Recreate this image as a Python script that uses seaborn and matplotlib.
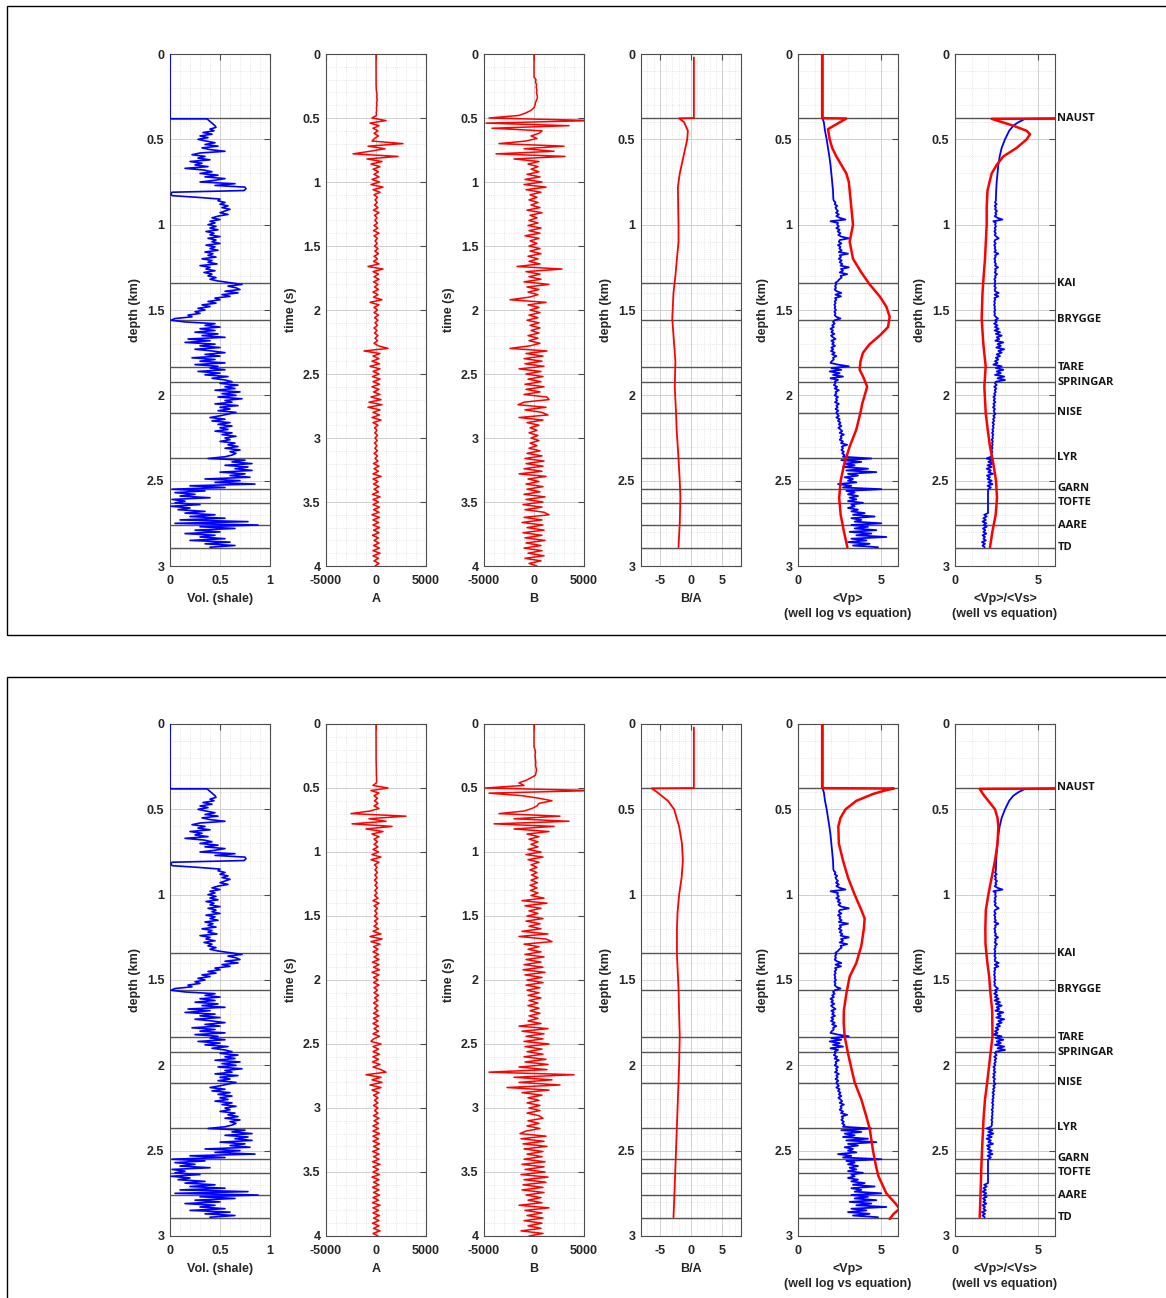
import numpy as np
import matplotlib
matplotlib.use("Agg")
import matplotlib.pyplot as plt
import seaborn as sns
from matplotlib.ticker import MultipleLocator, FormatStrFormatter
from matplotlib.patches import Rectangle
import matplotlib.transforms as mtransforms

# ---------------- data ----------------
formations = ["NAUST", "KAI", "BRYGGE", "TARE", "SPRINGAR", "NISE", "LYR", "GARN", "TOFTE", "AARE", "TD"]
formation_depth = [0.375, 1.342, 1.558, 1.834, 1.922, 2.103, 2.367, 2.548, 2.63, 2.76, 2.894]

# shale volume log, sampled every 0.01 km from 0.38 km
vsh_top_depth = [0.0, 0.38]
vsh_top = [0.0, 0.0]
vsh = [0.37, 0.39, 0.41, 0.43, 0.45, 0.46, 0.40, 0.44, 0.33, 0.42,
       0.30, 0.38, 0.28, 0.36, 0.45, 0.35, 0.48, 0.32, 0.40, 0.55,
       0.30, 0.22, 0.35, 0.28, 0.40, 0.20, 0.32, 0.25, 0.38, 0.15,
       0.34, 0.42, 0.30, 0.48, 0.35, 0.55, 0.45, 0.30, 0.65, 0.45,
       0.75, 0.76, 0.74, 0.02, 0.01, 0.02, 0.28, 0.50, 0.48, 0.55,
       0.50, 0.58, 0.52, 0.60, 0.55, 0.50, 0.58, 0.48, 0.42, 0.50,
       0.40, 0.45, 0.38, 0.46, 0.40, 0.48, 0.36, 0.44, 0.40, 0.50,
       0.38, 0.46, 0.42, 0.50, 0.36, 0.45, 0.40, 0.48, 0.35, 0.43,
       0.38, 0.46, 0.32, 0.42, 0.38, 0.47, 0.30, 0.40, 0.36, 0.45,
       0.34, 0.42, 0.38, 0.46, 0.40, 0.48, 0.60, 0.72, 0.58, 0.66,
       0.70, 0.55, 0.68, 0.52, 0.60, 0.45, 0.50, 0.38, 0.46, 0.32,
       0.40, 0.28, 0.35, 0.25, 0.30, 0.18, 0.22, 0.05, 0.01, 0.15,
       0.45, 0.35, 0.50, 0.30, 0.45, 0.25, 0.48, 0.32, 0.55, 0.18,
       0.40, 0.15, 0.45, 0.30, 0.50, 0.25, 0.42, 0.55, 0.35, 0.50,
       0.22, 0.45, 0.30, 0.55, 0.25, 0.48, 0.40, 0.55, 0.28, 0.50,
       0.35, 0.58, 0.42, 0.55, 0.62, 0.50, 0.68, 0.55, 0.65, 0.45,
       0.70, 0.52, 0.66, 0.48, 0.72, 0.55, 0.62, 0.45, 0.68, 0.50,
       0.60, 0.48, 0.66, 0.58, 0.50, 0.40, 0.55, 0.42, 0.60, 0.48,
       0.62, 0.50, 0.58, 0.45, 0.62, 0.52, 0.66, 0.55, 0.60, 0.50,
       0.65, 0.58, 0.68, 0.55, 0.70, 0.60, 0.66, 0.62, 0.55, 0.38,
       0.75, 0.62, 0.82, 0.55, 0.78, 0.65, 0.82, 0.50, 0.75, 0.60,
       0.80, 0.35, 0.70, 0.45, 0.85, 0.20, 0.55, 0.02, 0.35, 0.05,
       0.25, 0.10, 0.40, 0.02, 0.15, 0.05, 0.30, 0.01, 0.20, 0.08,
       0.35, 0.15, 0.45, 0.20, 0.55, 0.10, 0.78, 0.05, 0.88, 0.30,
       0.65, 0.25, 0.50, 0.15, 0.45, 0.30, 0.55, 0.20, 0.60, 0.35,
       0.65, 0.40]

# Vp well log (km/s): smooth upper part, then sampled every 0.01 km from 0.86 km
vp_top_depth = [0.0, 0.38, 0.40, 0.45, 0.50, 0.55, 0.60, 0.65, 0.70, 0.75, 0.80, 0.85]
vp_top = [1.48, 1.48, 1.55, 1.62, 1.72, 1.80, 1.88, 1.95, 2.00, 2.05, 2.10, 2.12]
vp_log = [2.15, 2.25, 2.20, 2.35, 2.25, 2.30, 2.40, 2.28, 2.45, 2.30,
          2.50, 2.85, 1.95, 2.40, 2.35, 2.45, 2.30, 2.50, 2.38, 2.55,
          2.42, 2.60, 3.05, 2.50, 2.45, 2.60, 2.40, 2.55, 2.48, 2.62,
          2.45, 3.00, 2.50, 2.58, 2.45, 2.62, 2.50, 2.66, 2.55, 3.05,
          2.58, 2.70, 2.50, 2.95, 2.55, 2.62, 2.48, 2.40, 2.25, 2.30,
          2.22, 2.28, 2.20, 2.32, 2.60, 2.25, 2.58, 2.22, 2.30, 2.20,
          2.26, 2.18, 2.24, 2.20, 2.28, 2.18, 2.25, 2.20, 2.30, 2.55,
          2.20, 2.10, 2.20, 2.05, 2.15, 1.95, 2.10, 2.00, 2.18, 1.98,
          2.10, 2.25, 2.00, 2.15, 2.05, 2.22, 2.00, 2.12, 1.98, 2.20,
          2.05, 2.30, 2.10, 2.15, 2.02, 1.95, 2.40, 3.05, 2.00, 2.60,
          1.90, 2.50, 2.10, 2.70, 1.95, 2.40, 2.20, 2.25, 2.15, 2.35,
          2.20, 2.45, 2.25, 2.30, 2.20, 2.40, 2.28, 2.35, 2.22, 2.45,
          2.30, 2.38, 2.25, 2.42, 2.30, 2.35, 2.45, 2.30, 2.50, 2.40,
          2.55, 2.45, 2.60, 2.42, 2.55, 2.65, 2.50, 2.75, 2.55, 2.62,
          2.50, 2.70, 2.58, 2.95, 2.62, 2.70, 2.60, 2.75, 2.65, 2.80,
          2.70, 4.40, 2.60, 3.80, 2.80, 3.40, 2.70, 4.20, 2.90, 4.70,
          3.00, 3.60, 2.80, 3.30, 3.00, 3.50, 2.40, 3.20, 2.70, 5.00,
          2.90, 3.40, 3.00, 3.60, 3.10, 3.50, 3.00, 3.90, 3.20, 3.40,
          3.00, 3.60, 3.20, 4.00, 3.30, 4.60, 3.20, 3.80, 3.40, 5.00,
          3.20, 4.20, 3.40, 4.70, 3.10, 4.40, 3.50, 5.30, 3.20, 4.10,
          3.00, 4.30, 3.30, 4.80]

# Vp/Vs well log: smooth upper part, then sampled every 0.01 km from 0.86 km
vpvs_top_depth = [0.376, 0.38, 0.40, 0.42, 0.45, 0.50, 0.55, 0.60, 0.65, 0.70, 0.75, 0.80, 0.85]
vpvs_top = [8.0, 4.2, 3.8, 3.5, 3.25, 3.0, 2.8, 2.68, 2.6, 2.55, 2.5, 2.47, 2.45]
vpvs_log = [2.45, 2.40, 2.50, 2.38, 2.46, 2.40, 2.52, 2.42, 2.48, 2.38,
            2.55, 2.85, 2.30, 2.45, 2.40, 2.46, 2.38, 2.44, 2.36, 2.45,
            2.38, 2.48, 2.62, 2.40, 2.36, 2.44, 2.35, 2.42, 2.38, 2.45,
            2.36, 2.60, 2.40, 2.44, 2.36, 2.42, 2.38, 2.46, 2.40, 2.58,
            2.40, 2.45, 2.38, 2.52, 2.40, 2.44, 2.36, 2.42, 2.38, 2.42,
            2.36, 2.45, 2.38, 2.40, 2.62, 2.38, 2.60, 2.36, 2.42, 2.35,
            2.40, 2.34, 2.40, 2.36, 2.42, 2.35, 2.40, 2.36, 2.44, 2.58,
            2.40, 2.50, 2.35, 2.55, 2.40, 2.62, 2.38, 2.70, 2.45, 2.80,
            2.50, 2.65, 2.42, 2.90, 2.55, 2.75, 2.48, 2.95, 2.60, 2.80,
            2.50, 2.70, 2.45, 2.60, 2.40, 2.55, 2.30, 2.80, 2.45, 2.90,
            2.50, 2.75, 2.40, 2.95, 2.55, 3.00, 2.45, 2.40, 2.50, 2.35,
            2.48, 2.38, 2.45, 2.35, 2.42, 2.30, 2.40, 2.32, 2.42, 2.30,
            2.38, 2.28, 2.40, 2.32, 2.36, 2.42, 2.30, 2.38, 2.28, 2.35,
            2.25, 2.34, 2.26, 2.32, 2.24, 2.30, 2.22, 2.30, 2.24, 2.28,
            2.20, 2.27, 2.22, 2.26, 2.20, 2.25, 2.18, 2.24, 2.20, 2.22,
            2.15, 1.90, 2.25, 2.00, 2.30, 1.95, 2.20, 1.90, 2.15, 2.00,
            2.28, 1.92, 2.10, 1.95, 2.20, 2.00, 2.25, 1.95, 2.15, 2.00,
            1.98, 1.98, 1.98, 1.98, 1.98, 1.98, 1.98, 1.98, 1.98, 1.98,
            1.98, 1.98, 1.98, 1.98, 1.75, 1.90, 1.70, 1.85, 1.65, 1.88,
            1.72, 1.90, 1.68, 1.82, 1.70, 1.88, 1.65, 1.80, 1.70, 1.85,
            1.62, 1.80, 1.65, 1.78]

# seismic traces A and B, sampled every 0.02 s from 0 to 4 s
A1 = [0, 0, 0, 0, 0, 0, 0, 0, 0, 0,
      0, 0, 10, 20, 30, 60, 100, 80, 120, 60,
      90, 40, 60, 20, 50, -400, 1000, -600, 300, -300,
      200, -200, 250, -150, -400, 2700, -800, 900, -600, -2300,
      2200, -900, 600, -500, 400, -300, 250, -200, 300, -400,
      350, -500, 700, -300, 400, -200, 150, -100, 120, -150,
      200, -250, 300, -150, 100, -120, 150, -200, 180, -250,
      300, -200, 150, -100, 120, -150, 200, -120, 250, -200,
      150, -250, 300, -800, 700, -300, 250, -200, 300, -250,
      200, -150, 250, -300, 200, -250, 600, -600, 300, -200,
      150, -200, 250, -150, 200, -100, 150, -200, 100, -150,
      200, -100, 150, -200, 250, 1200, -1200, 400, -300, 300,
      -400, 350, -600, 400, -300, 300, -350, 400, -300, 350,
      -400, 300, -250, 400, -500, 500, -700, 600, -800, 400,
      -300, 350, -400, 500, -300, 200, -150, 100, -120, 150,
      -100, 120, -150, 100, -120, 150, -200, 150, -100, 200,
      -250, 300, -200, 250, -300, 500, -300, 200, -250, 300,
      -200, 250, -350, 400, -300, 250, -300, 350, -250, 300,
      -400, 350, -300, 250, -300, 350, -250, 300, -350, 250,
      -200, 300, -250, 350, -300, 400, -300, 250, -200, 300,
      -100]

B1 = [0, 0, 0, 0, 0, 0, 0, 0, 0, 0,
      200, 150, 250, 220, 280, 250, 300, 350, 250, 150,
      100, 0, -300, -800, -1500, -4500, 6000, -4800, 3500, -4200,
      800, 500, -300, 300, -800, -3500, 3000, -1000, 2000, -3800,
      3100, -2000, 500, -600, 400, -300, 500, -700, 600, -900,
      800, -1000, 1200, -800, 700, -400, 300, -500, 400, -300,
      600, -700, 800, -400, 300, -500, 400, -600, 700, -500,
      600, -900, 500, -400, 300, -500, 600, -400, 700, -600,
      400, -500, 600, -1700, 2800, -800, 600, -500, 700, -1000,
      1500, -700, 500, -600, 400, -500, -2400, 1200, -600, 500,
      -400, 600, -500, 400, -700, 500, -400, 600, -300, 500,
      -600, 400, -500, 600, -400, -2400, 1300, -800, 900, -1000,
      800, -900, 1000, -1500, 700, -800, 900, -600, 700, -900,
      1000, -800, 600, -1000, 1300, 1500, -1000, -1600, 1200, -900,
      800, 1400, -1500, 900, -700, 500, -400, 300, -500, 400,
      -300, 500, -400, 300, -500, 600, -700, 800, -900, 1000,
      -800, 900, -1000, 800, -1500, 1200, -600, 500, -800, 900,
      -700, 600, -1000, 1100, -800, 900, -1100, 800, -900, 1000,
      1500, -1000, 800, -1200, 900, -700, 1000, -1100, 800, -900,
      1100, -800, 700, -1000, 800, -600, 1000, -900, 700, -500,
      300]

A2 = [0, 0, 0, 0, 0, 0, 0, 0, 0, 0,
      0, 0, 0, 0, 10, 20, 20, 30, 30, 40,
      40, 50, 60, 40, -300, 1200, -500, 300, -200, 150,
      -150, 200, -200, 300, -600, -2500, 3000, -700, 1000, -2400,
      1600, -1000, 700, -400, 300, -200, 150, -200, 200, -300,
      250, -400, 500, -500, 300, -150, 100, -100, 150, -120,
      100, -150, 120, -100, 150, -120, 100, -150, 200, -300,
      300, -200, 150, -120, 100, -150, 200, -150, 120, -200,
      250, -300, 500, -600, 600, -500, 400, -250, 200, -300,
      250, -200, 300, -350, 300, -250, 350, -400, 300, -250,
      200, -250, 300, -200, 150, -200, 250, -150, 200, -250,
      200, -150, 200, -250, 300, -250, 200, -300, 250, -200,
      250, -300, 350, -250, -500, 500, -300, 250, -300, 350,
      -300, 250, -350, 400, -300, 500, 1000, -1000, 500, -400,
      600, -600, 500, -400, 300, -250, 200, -150, 200, -250,
      200, -150, 200, -250, 300, -200, 250, -300, 250, -300,
      350, -300, 250, -300, 350, -250, 300, -350, 300, -250,
      300, -350, 400, -300, 250, -300, 350, -400, 300, -250,
      300, -350, 300, -250, 350, -300, 250, -350, 400, -300,
      250, -300, 350, -250, 300, -350, 300, -250, 400, -300,
      200]

B2 = [0, 0, 0, 0, 0, 0, 0, 0, 0, 0,
      100, 150, 100, 120, 150, 180, 150, 200, 250, 200,
      150, -300, -800, -1500, -1000, -4900, 6000, -4500, -1200, 500,
      1800, 500, 300, -200, -1000, -3500, 2600, -2000, 3500, -4000,
      2000, -2000, 1500, -700, 500, -500, 400, -300, 400, -600,
      700, -800, 900, -600, 500, -300, 300, -400, 300, -250,
      400, -300, 350, -400, 300, -350, 400, -300, 1000, -1200,
      1300, -900, 700, -500, 400, -700, 900, -800, 600, -500,
      700, -1200, 1400, -1500, 1200, 1800, -1000, 500, -600, 700,
      -900, 1000, -800, 700, -1000, 900, -1100, 1100, -900, 800,
      -700, 900, -800, 600, -700, 500, -600, 700, -500, 400,
      -600, 500, -400, 600, -500, 400, -600, 700, -1500, 1400,
      -1200, 1000, -800, 900, -1000, 1500, -900, 800, -700, 900,
      -1000, 1200, -900, 1400, -1500, 1300, -4500, 4000, -2000, 1800,
      -1500, 2600, -2700, 1500, -1200, 800, -600, 500, -700, 600,
      -500, 600, -700, 500, 900, -600, 500, -700, 600, -800,
      -1400, 1200, -1300, 1000, -1100, 1300, -1000, 900, -700, 800,
      -1000, 1100, -1200, 1000, -900, 1100, -1300, 1400, -1000, 1200,
      -1100, 900, -1200, 1000, -800, 700, -600, 800, -1500, 1500,
      -900, 800, -700, 900, -1000, 800, -600, 700, -1300, 900,
      -500]

# B/A ratio
ba1_depth = [0.02, 0.375, 0.377, 0.40, 0.45, 0.50, 0.60, 0.70, 0.78, 0.90, 1.00, 1.10, 1.20, 1.30,
             1.40, 1.55, 1.70, 1.80, 1.95, 2.10, 2.20, 2.37, 2.50, 2.60, 2.75, 2.89]
ba1 = [0.46, 0.46, -1.9, -1.1, -0.5, -0.6, -1.2, -1.8, -2.1, -2.05, -2.0, -2.0, -2.25, -2.5,
       -2.8, -3.0, -2.7, -2.5, -2.6, -2.4, -2.3, -2.0, -1.8, -1.7, -1.8, -2.0]
ba2_depth = [0.02, 0.375, 0.377, 0.40, 0.45, 0.50, 0.60, 0.70, 0.80, 0.90, 1.00, 1.10, 1.20, 1.35,
             1.55, 1.70, 1.83, 2.00, 2.20, 2.40, 2.60, 2.80, 2.89]
ba2 = [0.46, 0.46, -6.3, -5.4, -3.7, -2.7, -1.9, -1.45, -1.3, -1.5, -1.9, -2.15, -2.25, -2.25,
       -2.0, -1.9, -1.8, -1.9, -2.1, -2.3, -2.5, -2.7, -2.8]

# Vp from equation
vp_eq1_depth = [0.0, 0.376, 0.378, 0.44, 0.50, 0.55, 0.60, 0.65, 0.70, 0.75, 0.80, 0.90, 1.00, 1.05,
                1.10, 1.20, 1.28, 1.35, 1.42, 1.48, 1.54, 1.60, 1.65, 1.70, 1.75, 1.80, 1.85, 1.90,
                1.95, 2.00, 2.05, 2.10, 2.20, 2.30, 2.40, 2.50, 2.60, 2.70, 2.80, 2.89]
vp_eq1 = [1.45, 1.45, 2.9, 1.8, 1.9, 2.05, 2.3, 2.6, 2.9, 3.05, 3.1, 3.2, 3.3, 3.2,
          3.1, 3.3, 3.8, 4.3, 4.9, 5.3, 5.5, 5.4, 4.9, 4.3, 3.9, 3.75, 3.7, 3.95,
          4.15, 4.0, 3.85, 3.75, 3.5, 3.1, 2.78, 2.56, 2.47, 2.56, 2.76, 2.96]
vp_eq2_depth = [0.0, 0.376, 0.378, 0.39, 0.41, 0.45, 0.50, 0.55, 0.60, 0.70, 0.80, 0.90, 1.00, 1.09,
                1.14, 1.20, 1.30, 1.40, 1.48, 1.58, 1.68, 1.75, 1.83, 1.93, 2.00, 2.10, 2.20, 2.30,
                2.37, 2.50, 2.60, 2.65, 2.75, 2.81, 2.84, 2.87, 2.90]
vp_eq2 = [1.45, 1.45, 5.75, 5.2, 4.5, 3.5, 2.85, 2.55, 2.42, 2.45, 2.7, 3.0, 3.4, 3.8,
          4.0, 3.95, 3.8, 3.5, 3.1, 2.9, 2.75, 2.74, 2.8, 3.0, 3.16, 3.4, 3.8, 4.1,
          4.3, 4.5, 4.7, 4.83, 5.3, 5.85, 6.1, 5.74, 5.5]

# Vp/Vs from equation
vpvs_eq1_depth = [0.377, 0.38, 0.42, 0.45, 0.47, 0.50, 0.55, 0.60, 0.65, 0.70, 0.80, 0.90, 1.00, 1.10,
                  1.20, 1.30, 1.40, 1.55, 1.70, 1.83, 1.95, 2.10, 2.20, 2.30, 2.40, 2.50, 2.60, 2.70,
                  2.80, 2.89]
vpvs_eq1 = [9.0, 2.2, 3.5, 4.3, 4.5, 4.3, 3.7, 2.9, 2.5, 2.2, 1.95, 1.9, 1.9, 1.85,
            1.8, 1.72, 1.65, 1.6, 1.7, 1.84, 1.76, 1.84, 1.96, 2.1, 2.3, 2.46, 2.52, 2.44,
            2.24, 2.1]
vpvs_eq2_depth = [0.377, 0.38, 0.42, 0.45, 0.50, 0.55, 0.60, 0.70, 0.80, 0.90, 1.00, 1.09, 1.20, 1.29,
                  1.39, 1.48, 1.58, 1.68, 1.83, 1.93, 2.00, 2.10, 2.20, 2.30, 2.40, 2.50, 2.60, 2.79,
                  2.89]
vpvs_eq2 = [9.0, 1.48, 1.75, 2.0, 2.4, 2.55, 2.6, 2.55, 2.4, 2.2, 2.0, 1.85, 1.82, 1.83,
            1.93, 2.05, 2.13, 2.23, 2.25, 2.13, 2.05, 1.93, 1.8, 1.72, 1.67, 1.62, 1.58, 1.52,
            1.48]

# ---------------- derived sampling axes ----------------
vsh_depth = list(vsh_top_depth) + list(np.round(0.38 + 0.01 * np.arange(len(vsh)), 3))
vsh_all = list(vsh_top) + list(vsh)
log_depth = list(np.round(0.86 + 0.01 * np.arange(len(vp_log)), 3))
vp_depth_all = list(vp_top_depth) + log_depth
vp_all = list(vp_top) + list(vp_log)
vpvs_depth_all = list(vpvs_top_depth) + list(np.round(0.86 + 0.01 * np.arange(len(vpvs_log)), 3))
vpvs_all = list(vpvs_top) + list(vpvs_log)
time_axis = list(np.round(0.02 * np.arange(len(A1)), 3))

# ---------------- style ----------------
sns.set_theme(style="white")
plt.rcParams["font.family"] = ["Liberation Sans", "DejaVu Sans"]
plt.rcParams["axes.unicode_minus"] = False

TXT = "#262626"
SPINE = "#4d4d4d"
BLUE = "#0000ff"
RED = "#ff0000"
FS = 9

fig = plt.figure(figsize=(11.66, 12.98), dpi=100)
W, H = 1166.0, 1298.0

lefts = [170, 326, 484, 641, 798, 955]
width = 100
panel_tops = [54, 724]
panel_h = 512


def make_ax(left, top):
    return fig.add_axes([left / W, 1 - (top + panel_h) / H, width / W, panel_h / H])


def style(ax, xlim, xticks, xminor, ymax, ylabel, xlabel):
    ax.set_xlim(*xlim)
    ax.set_ylim(ymax, 0)
    ax.set_xticks(xticks)
    ax.xaxis.set_minor_locator(MultipleLocator(xminor))
    ax.set_yticks(np.arange(0, ymax + 0.01, 0.5))
    ax.yaxis.set_minor_locator(MultipleLocator(0.1))
    ax.xaxis.set_major_formatter(FormatStrFormatter("%g"))
    ax.yaxis.set_major_formatter(FormatStrFormatter("%g"))
    ax.grid(which="major", color="#d0d0d0", lw=0.7, ls="-")
    ax.grid(which="minor", color="#dedede", lw=0.6, ls=":")
    ax.set_axisbelow(True)
    ax.tick_params(which="major", direction="in", length=4, width=0.8, color=SPINE,
                   top=True, right=True, labelsize=FS, labelcolor=TXT)
    ax.tick_params(axis="y", which="major", pad=4)
    ax.tick_params(axis="x", which="major", pad=6.5)
    ax.tick_params(which="minor", length=0)
    for lab in ax.get_xticklabels() + ax.get_yticklabels():
        lab.set_fontweight("bold")
    for s in ax.spines.values():
        s.set_color(SPINE)
        s.set_linewidth(0.8)
    ax.set_ylabel(ylabel, fontsize=FS, fontweight="bold", color=TXT, labelpad=4)
    ax.set_xlabel(xlabel, fontsize=FS, fontweight="bold", color=TXT, labelpad=4, linespacing=1.35)


def formation_lines(ax):
    for d in formation_depth:
        ax.axhline(d, color="#555555", lw=1.0, zorder=3)


def line(ax, x, y, color, lw):
    sns.lineplot(x=x, y=y, sort=False, estimator=None, color=color, lw=lw, ax=ax, legend=False, zorder=4)


panels = [
    dict(A=A1, B=B1, ba_d=ba1_depth, ba=ba1, vpe_d=vp_eq1_depth, vpe=vp_eq1, vve_d=vpvs_eq1_depth, vve=vpvs_eq1),
    dict(A=A2, B=B2, ba_d=ba2_depth, ba=ba2, vpe_d=vp_eq2_depth, vpe=vp_eq2, vve_d=vpvs_eq2_depth, vve=vpvs_eq2),
]

for top, p in zip(panel_tops, panels):
    ax1, ax2, ax3, ax4, ax5, ax6 = [make_ax(l, top) for l in lefts]

    line(ax1, vsh_all, vsh_depth, BLUE, 1.2)
    formation_lines(ax1)
    style(ax1, (0, 1), [0, 0.5, 1], 0.1, 3, "depth (km)", "Vol. (shale)")

    line(ax2, p["A"], time_axis, RED, 1.1)
    style(ax2, (-5000, 5000), [-5000, 0, 5000], 1000, 4, "time (s)", "A")

    line(ax3, p["B"], time_axis, RED, 1.1)
    style(ax3, (-5000, 5000), [-5000, 0, 5000], 1000, 4, "time (s)", "B")

    line(ax4, p["ba"], p["ba_d"], RED, 1.3)
    formation_lines(ax4)
    style(ax4, (-8, 8), [-5, 0, 5], 1, 3, "depth (km)", "B/A")

    line(ax5, vp_all, vp_depth_all, BLUE, 1.3)
    line(ax5, p["vpe"], p["vpe_d"], RED, 1.8)
    formation_lines(ax5)
    style(ax5, (0, 6), [0, 5], 1, 3, "depth (km)", "<Vp>\n(well log vs equation)")

    line(ax6, vpvs_all, vpvs_depth_all, BLUE, 1.3)
    line(ax6, p["vve"], p["vve_d"], RED, 1.8)
    formation_lines(ax6)
    style(ax6, (0, 6), [0, 5], 1, 3, "depth (km)", "<Vp>/<Vs>\n(well vs equation)")

    trans = mtransforms.blended_transform_factory(ax6.transAxes, ax6.transData)
    for name, d in zip(formations, formation_depth):
        ax6.text(1.025, d, name, transform=trans, ha="left", va="center", fontsize=8,
                 fontweight="bold", color="#141414", family=["Open Sans", "DejaVu Sans"], clip_on=False)

# panel frames
fig.add_artist(Rectangle((7 / W, 1 - 635 / H), 1.2, (635 - 6) / H, transform=fig.transFigure,
                         fill=False, ec="black", lw=1.0))
fig.add_artist(Rectangle((7 / W, -0.1), 1.2, 0.1 + 1 - 677 / H, transform=fig.transFigure,
                         fill=False, ec="black", lw=1.0))

fig.savefig("out.png", dpi=100)
